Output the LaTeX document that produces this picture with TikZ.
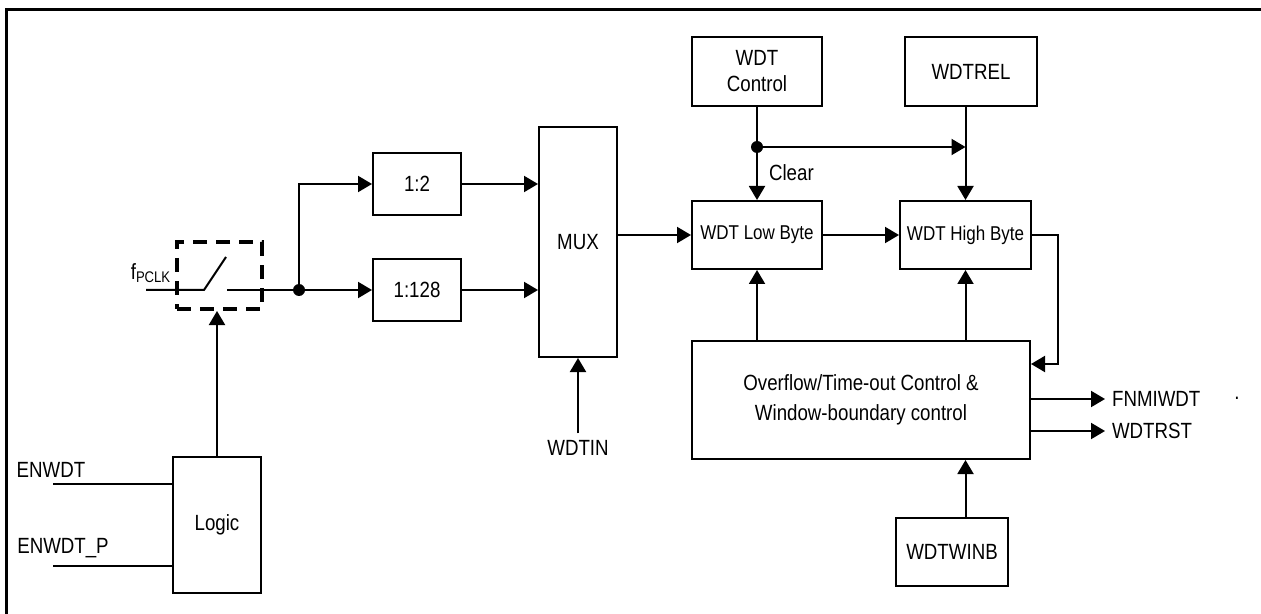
\documentclass[tikz,border=0pt]{standalone}
\usepackage{fontspec}
\setmainfont[FakeStretch=0.85]{Liberation Sans}
\usetikzlibrary{arrows.meta}

\begin{document}
\begin{tikzpicture}[
  x=0.5pt, y=-0.5pt,
  font=\fontsize{11pt}{13pt}\selectfont,
  blk/.style={draw, line width=1pt, inner sep=0pt, align=center},
  small/.style={font=\fontsize{10pt}{12pt}\selectfont},
  swbox/.style={draw, line width=2pt, dash pattern=on 7pt off 4.5pt, minimum width=42.5pt, minimum height=33.5pt},
  arr/.style={-{Triangle[length=7pt,width=8pt]}, line width=1pt},
  wire/.style={line width=1pt}
]
\useasboundingbox (0,0) rectangle (1261,614);
\draw[line width=1.5pt] (6,614) -- (6,10) -- (1261,10);

% clock path
\node[swbox] (sw) at (219.5,275.5) {};
\node (fclk) at (151,273) {f\textsubscript{PCLK}};
\coordinate (sin) at (146,290);
\coordinate (sa) at (204,290);
\coordinate (sb) at (226,257);
\coordinate (sc) at (227,290);
\coordinate (clk) at (299,290);
\draw[wire] (sin) -- (sa) -- (sb);
\draw[wire] (sc) -- (clk);
\fill (clk) circle (3pt);

\node[blk, minimum width=44pt, minimum height=31pt] (div2) at (417,184) {1:2};
\node[blk, minimum width=44pt, minimum height=31pt] (div128) at (417,290) {1:128};
\node[blk, minimum width=39pt, minimum height=115pt] (mux) at (578,242) {MUX};
\draw[arr] (clk) |- (div2.west);
\draw[arr] (clk) -- (div128.west);
\draw[arr] (div2.east) -- (div2.east -| mux.west);
\draw[arr] (div128.east) -- (div128.east -| mux.west);

\node (wdtin) at (578,448) {WDTIN};
\draw[arr] (wdtin.north) -- (mux.south);

% enable logic
\node[blk, minimum width=44pt, minimum height=68pt] (logic) at (217,525) {Logic};
\draw[arr] (logic.north) -- (logic.north |- sw.south);
\node (enwdt) at (51,470) {ENWDT};
\node (enwdtp) at (63,548) {ENWDT\_P};
\coordinate (en) at (53,484);
\coordinate (enp) at (53,566);
\draw[wire] (en) -- (en -| logic.west);
\draw[wire] (enp) -- (enp -| logic.west);

% counter
\node[blk, minimum width=65pt, minimum height=34.5pt] (wdtctl) at (757,71.5) {WDT\\Control};
\node[blk, minimum width=66pt, minimum height=34.5pt] (wdtrel) at (971,71.5) {WDTREL};
\node[blk, small, minimum width=65pt, minimum height=34pt] (lowbyte) at (757,235) {WDT Low Byte};
\node[blk, small, minimum width=65.5pt, minimum height=34pt] (highbyte) at (965.5,235) {WDT High Byte};
\draw[arr] (mux.east |- lowbyte) -- (lowbyte.west);
\draw[arr] (lowbyte.east) -- (highbyte.west);

\coordinate (clr) at (757,147);
\draw[arr] (wdtctl.south) -- (lowbyte.north);
\fill (clr) circle (3pt);
\node[anchor=west] (clear) at (762,173) {Clear};
\draw[arr] (clr) -- (clr -| highbyte);
\draw[arr] (wdtrel.south -| highbyte) -- (highbyte.north);

% overflow control
\node[blk, font=\fontsize{11pt}{15pt}\selectfont, minimum width=169pt, minimum height=59pt] (ovf) at (861,400)
  {Overflow/Time-out Control \&\\Window-boundary control};
\draw[arr] (ovf.north -| lowbyte) -- (lowbyte.south);
\draw[arr] (ovf.north -| highbyte) -- (highbyte.south);
\coordinate (fbk) at (1058,364);
\draw[arr] (highbyte.east) -| (fbk) -- (fbk -| ovf.east);

\node[anchor=west] (fnmi) at (1105,399) {FNMIWDT};
\node[anchor=west] (wdtrst) at (1105,431) {WDTRST};
\draw[arr] (fnmi.west -| ovf.east) -- (fnmi.west);
\draw[arr] (wdtrst.west -| ovf.east) -- (wdtrst.west);
\node (dot) at (1237,398) {.};

\node[blk, minimum width=56pt, minimum height=34pt] (wdtwinb) at (952,552) {WDTWINB};
\draw[arr] (wdtwinb.north -| highbyte) -- (ovf.south -| highbyte);
\end{tikzpicture}
\end{document}
